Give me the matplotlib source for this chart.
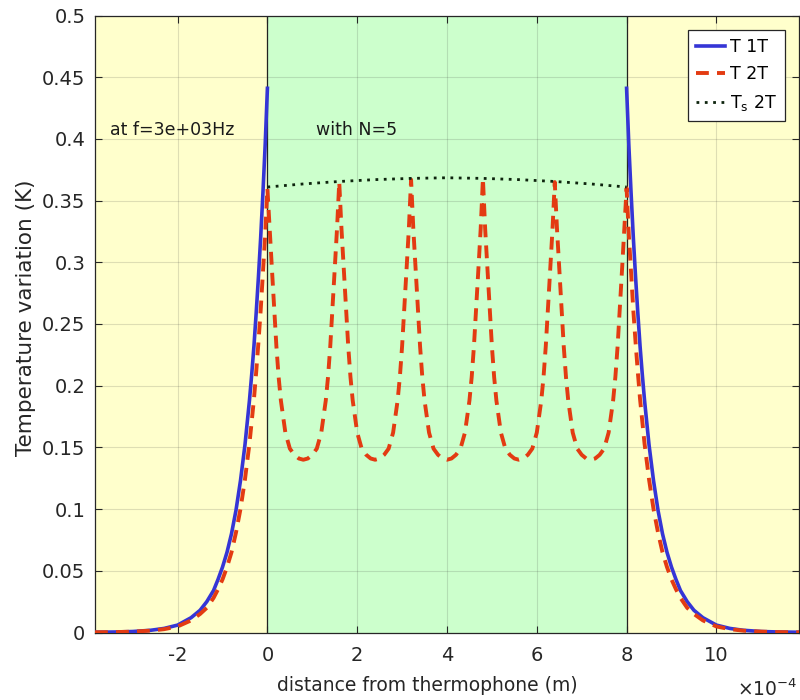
import matplotlib
matplotlib.use("Agg")
import matplotlib.pyplot as plt
import numpy as np
from matplotlib.ticker import MultipleLocator, FuncFormatter

plt.rcParams["font.family"] = ["DejaVu Sans"]
plt.rcParams["axes.unicode_minus"] = False

# x values are in units of 1e-4 m
x_min, x_max = -3.84, 11.84
slab_start, slab_end = 0.0, 8.0

# outside the slab: distance from the boundary and temperatures
ext_d = [0, 0.05, 0.1, 0.15, 0.2, 0.25, 0.3, 0.35, 0.4, 0.5, 0.6, 0.7, 0.8,
         0.9, 1.0, 1.1, 1.2, 1.35, 1.5, 1.7, 2.0, 2.3, 2.6, 3.0, 3.4, 3.84]
t1_ext = [0.441, 0.395, 0.356, 0.320, 0.288, 0.259, 0.232, 0.209, 0.188,
          0.152, 0.123, 0.099, 0.080, 0.065, 0.053, 0.043, 0.034, 0.025,
          0.018, 0.012, 0.006, 0.0033, 0.0018, 0.0008, 0.0004, 0.0002]
t2_ext = [0.360, 0.322, 0.291, 0.261, 0.235, 0.211, 0.189, 0.171, 0.153,
          0.124, 0.100, 0.081, 0.065, 0.053, 0.043, 0.035, 0.028, 0.020,
          0.015, 0.0098, 0.0049, 0.0027, 0.0015, 0.0007, 0.0003, 0.0002]

# inside the slab: N=5 cells, profile along one cell
node_x = [0.0, 1.6, 3.2, 4.8, 6.4, 8.0]
node_peak = [0.360, 0.365, 0.367, 0.368, 0.365, 0.360]
cell_d = [0, 0.05, 0.1, 0.15, 0.2, 0.25, 0.3, 0.4, 0.5, 0.6, 0.7, 0.8,
          0.9, 1.0, 1.1, 1.2, 1.3, 1.35, 1.4, 1.45, 1.5, 1.55, 1.6]
cell_t = [None, 0.327, 0.295, 0.263, 0.232, 0.207, 0.188, 0.162, 0.149,
          0.144, 0.141, 0.140, 0.141, 0.144, 0.149, 0.162, 0.188, 0.207,
          0.232, 0.263, 0.295, 0.327, None]

# Ts 2T across the slab
ts_x = [0, 0.8, 1.6, 2.4, 3.2, 4.0, 4.8, 5.6, 6.4, 7.2, 8.0]
ts_y = [0.361, 0.3635, 0.3655, 0.367, 0.368, 0.3685, 0.368, 0.367, 0.3655, 0.3635, 0.361]

# assemble T 2T as one continuous line
ext_d = np.array(ext_d)
x2 = list(-ext_d[::-1])
y2 = list(t2_ext[::-1])
for i in range(len(node_x) - 1):
    for d, t in zip(cell_d[1:], cell_t[1:]):
        x2.append(node_x[i] + d)
        y2.append(node_peak[i + 1] if t is None else t)
x2 += list(slab_end + ext_d[1:])
y2 += list(t2_ext[1:])

blue = "#3535d6"
red = "#e33b12"
ink = "#262626"

fig = plt.figure(figsize=(8, 7), dpi=100)
ax = fig.add_axes([95 / 800, 67.5 / 700, 704 / 800, 617 / 700])

ax.axvspan(x_min, slab_start, color="#ffffcc", zorder=0.5, lw=0)
ax.axvspan(slab_end, x_max, color="#ffffcc", zorder=0.5, lw=0)
ax.axvspan(slab_start, slab_end, color="#ccffcc", zorder=0.5, lw=0)
ax.axvline(slab_start, color="#222222", lw=0.9, zorder=1.6)
ax.axvline(slab_end, color="#222222", lw=0.9, zorder=1.6)

ax.plot(-ext_d, t1_ext, color=blue, lw=2.6, label="T 1T", zorder=3)
ax.plot(slab_end + ext_d, t1_ext, color=blue, lw=2.6, zorder=3)
ax.plot(x2, y2, color=red, lw=2.8, dashes=(3.3, 2.1), label="T 2T", zorder=4)
ax.plot(ts_x, ts_y, color="#0d240d", lw=2.0, dashes=(1, 2), label="T$_\\mathregular{s}$ 2T",
        zorder=5)

ax.text(-3.5, 0.407, "at f=3e+03Hz", fontsize=12.5, va="center", ha="left", color="#1a1a1a")
ax.text(1.09, 0.407, "with N=5", fontsize=12.5, va="center", ha="left", color="#1a1a1a")

ax.set_xlim(x_min, x_max)
ax.set_ylim(0, 0.5)
ax.xaxis.set_major_locator(MultipleLocator(2))
ax.yaxis.set_major_locator(MultipleLocator(0.05))
ax.xaxis.set_major_formatter(FuncFormatter(lambda v, p: f"{v:g}"))
ax.yaxis.set_major_formatter(FuncFormatter(lambda v, p: f"{round(v, 2):g}"))
ax.tick_params(direction="in", length=5, width=0.8, color=ink,
               top=True, right=True, labelsize=14, labelcolor=ink)
ax.tick_params(axis="x", pad=10)
ax.tick_params(axis="y", pad=7)
ax.grid(True, color=ink, alpha=0.15, lw=0.8)
for s in ax.spines.values():
    s.set_color(ink)
    s.set_linewidth(0.9)

ax.set_xlabel("distance from thermophone (m)", fontsize=13.5, color=ink)
ax.xaxis.set_label_coords(0.4716, -0.071)
ax.set_ylabel("Temperature variation (K)", fontsize=15.5, color=ink)
ax.yaxis.set_label_coords(-0.084, 0.51)
fig.text(797 / 800, 1 - 689 / 700, r"$\times\mathregular{10^{-4}}$", ha="right", va="center",
         fontsize=13.5, color=ink)

leg = ax.legend(loc="upper right", bbox_to_anchor=(785 / 800, 1 - 30 / 700),
                bbox_transform=fig.transFigure, borderaxespad=0, fontsize=12.5,
                fancybox=False, framealpha=1, edgecolor=ink,
                handlelength=1.7, handletextpad=0.3, labelspacing=0.55, borderpad=0.45)
leg.get_frame().set_linewidth(0.9)

fig.savefig("out.png", dpi=100)
